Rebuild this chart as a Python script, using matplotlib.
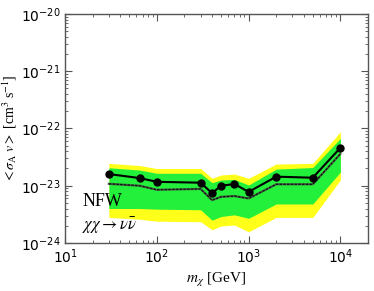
import numpy as np
import matplotlib
matplotlib.use('Agg')
import matplotlib.pyplot as plt

# masses and limits
mass = [30, 65, 100, 300, 400, 500, 700, 1000, 2000, 5000, 10000]
observed = [1.60e-23, 1.36e-23, 1.17e-23, 1.13e-23, 7.4e-24, 1.0e-23,
            1.07e-23, 7.8e-24, 1.44e-23, 1.38e-23, 4.6e-23]
median = [1.08e-23, 1.0e-23, 8.5e-24, 8.8e-24, 5.6e-24, 6.4e-24,
          6.6e-24, 6.0e-24, 1.06e-23, 1.06e-23, 3.6e-23]
band95_hi = [2.46e-23, 2.25e-23, 2.0e-23, 2.0e-23, 1.35e-23, 1.54e-23,
             1.6e-23, 1.35e-23, 2.39e-23, 2.46e-23, 8.75e-23]
band68_hi = [2.06e-23, 1.88e-23, 1.65e-23, 1.65e-23, 1.13e-23, 1.26e-23,
             1.29e-23, 1.03e-23, 1.95e-23, 2.08e-23, 6.7e-23]
band68_lo = [4.0e-24, 4.0e-24, 3.9e-24, 3.8e-24, 2.5e-24, 2.9e-24,
             3.1e-24, 2.7e-24, 4.8e-24, 4.8e-24, 1.73e-23]
band95_lo = [2.8e-24, 2.6e-24, 2.4e-24, 2.35e-24, 1.7e-24, 1.98e-24,
             2.06e-24, 1.57e-24, 2.8e-24, 2.8e-24, 1.26e-23]

fig = plt.figure(figsize=(3.74, 2.91), dpi=100)
ax = fig.add_axes([0.174, 0.165, 0.81, 0.787])

ax.fill_between(mass, band95_lo, band95_hi, color='#ffff1a', lw=0)
ax.fill_between(mass, band68_lo, band68_hi, color='#22f03a', lw=0)
ax.plot(mass, median, color='#446644', lw=1.6)
ax.plot(mass, median, color='#111111', lw=0.9, ls=(0, (2, 1)))
ax.plot(mass, observed, color='black', lw=1.5, marker='o', ms=5)

ax.set_xscale('log')
ax.set_yscale('log')
ax.set_xlim(10, 2e4)
ax.set_ylim(1e-24, 1e-20)

for s in ax.spines.values():
    s.set_color('#555555')
    s.set_linewidth(1.0)
ax.tick_params(which='both', direction='in', top=True, right=True,
               color='#555555', labelsize=10)
ax.tick_params(which='major', length=5)
ax.tick_params(which='minor', length=2.5)

serif = 'Liberation Serif'
ax.set_xlabel(r'$m_\chi$ [GeV]', family=serif, math_fontfamily='stix',
              fontsize=11, labelpad=3)
ax.set_ylabel(r'$<\sigma_{\rm A}\ v>$ [cm$^3$ s$^{-1}$]', family=serif,
              math_fontfamily='stix', fontsize=10, labelpad=1)

ax.text(15.3, 4.4e-24, 'NFW', family=serif, fontsize=13)
ax.text(15.3, 1.7e-24, r'$\chi\chi \rightarrow \nu\bar{\nu}$', family=serif,
        math_fontfamily='stix', fontsize=12)

fig.savefig('out.png', dpi=100)
